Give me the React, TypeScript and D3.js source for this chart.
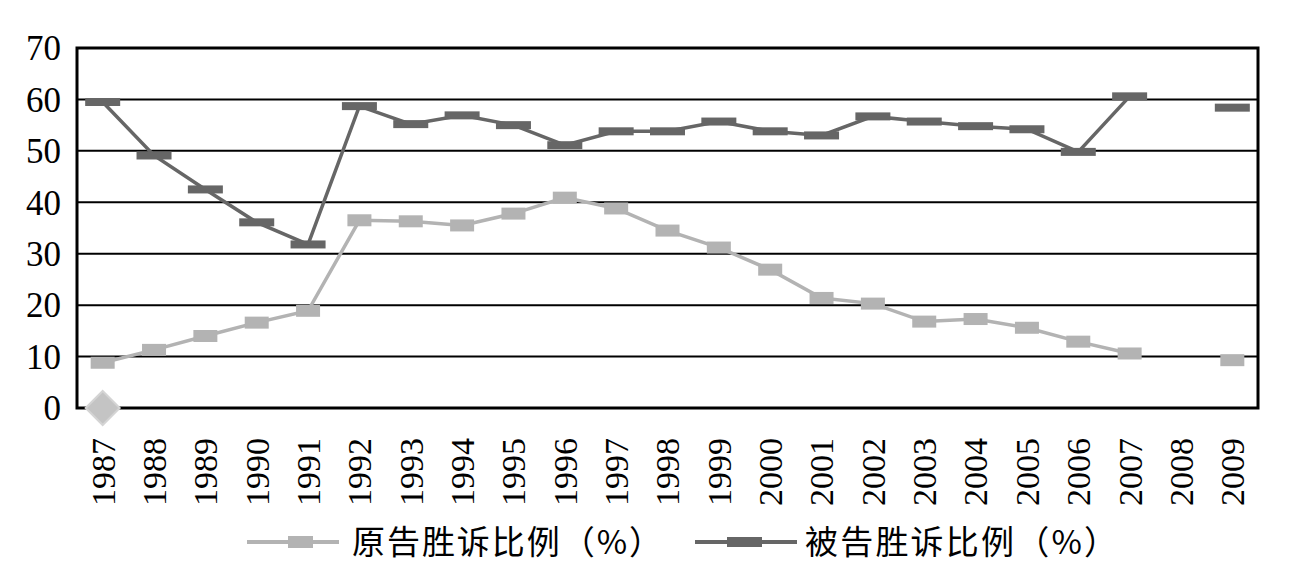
import React from "react";
import * as d3 from "d3";

const years = ["1987","1988","1989","1990","1991","1992","1993","1994","1995","1996","1997","1998","1999","2000","2001","2002","2003","2004","2005","2006","2007","2008","2009"];
const plaintiff: (number | null)[] = [8.8,11.3,14.0,16.6,18.9,36.5,36.3,35.5,37.8,40.9,38.8,34.5,31.2,26.9,21.4,20.3,16.8,17.3,15.6,12.9,10.6,null,9.3];
const defendant: (number | null)[] = [59.5,49.1,42.5,36.1,31.8,58.7,55.2,56.9,55.0,51.1,53.8,53.8,55.7,53.8,53.0,56.7,55.7,54.8,54.2,49.8,60.6,null,58.4];
const yTicks = [0,10,20,30,40,50,60,70];
const legendLabels = ["原告胜诉比例（%）","被告胜诉比例（%）"];

export default function App() {
  const left = 77, right = 1258, top = 48, bottom = 408;
  const x = d3.scaleBand<string>().domain(years).range([left, right]);
  const cx = (yr: string) => (x(yr) as number) + x.bandwidth() / 2;
  const y = d3.scaleLinear().domain([0, 70]).range([bottom, top]);
  const line = d3.line<number | null>()
    .defined((d) => d !== null)
    .x((_, i) => cx(years[i]))
    .y((d) => y(d as number));
  const pColor = "#b3b3b3", dColor = "#666666";
  const serif = "Liberation Serif, Times New Roman, DejaVu Serif, serif";
  const cjk = "Noto Sans CJK SC, Liberation Serif, serif";
  return (
    <svg width={1310} height={580} style={{ position: "absolute", left: 0, top: 0, background: "#fff" }}>
      <rect x={0} y={0} width={1310} height={580} fill="#fff" />
      {yTicks.slice(1, -1).map((t) => (
        <line key={t} x1={left} x2={right} y1={y(t)} y2={y(t)} stroke="#000" strokeWidth={2} />
      ))}
      <rect x={left} y={top} width={right - left} height={bottom - top} fill="none" stroke="#000" strokeWidth={3} />
      {yTicks.map((t) => (
        <text key={t} x={61} y={y(t)} dy="0.35em" textAnchor="end" style={{ fontFamily: serif }} fontSize={35} fill="#000">{t}</text>
      ))}
      {years.map((yr) => (
        <text key={yr} transform={`translate(${cx(yr)},${bottom + 30}) rotate(-90)`} dy="0.35em" textAnchor="end" style={{ fontFamily: serif }} fontSize={34} fill="#000">{yr}</text>
      ))}
      <path d={line(plaintiff) || ""} fill="none" stroke={pColor} strokeWidth={3.5} />
      <path d={line(defendant) || ""} fill="none" stroke={dColor} strokeWidth={3.5} />
      {plaintiff.map((v, i) => v === null ? null : (
        <rect key={"p" + i} x={cx(years[i]) - 12} y={y(v) - 6} width={24} height={12} fill={pColor} />
      ))}
      {defendant.map((v, i) => v === null ? null : (
        <rect key={"d" + i} x={cx(years[i]) - 17.5} y={y(v) - 4} width={35} height={8} fill={dColor} />
      ))}
      <path d={`M${cx(years[0])},${y(0) - 17} L${cx(years[0]) + 17},${y(0)} L${cx(years[0])},${y(0) + 17} L${cx(years[0]) - 17},${y(0)} Z`} fill="#c4c4c4" stroke="#d4d4d4" strokeWidth={2} />
      <g>
        <line x1={247} x2={339} y1={542} y2={542} stroke={pColor} strokeWidth={4} />
        <rect x={288} y={536} width={25} height={12} fill={pColor} />
        <text x={352} y={542} dy="0.35em" style={{ fontFamily: cjk }} fontSize={33} textLength={310} lengthAdjust="spacing" fill="#000">{legendLabels[0]}</text>
        <line x1={695} x2={797} y1={542} y2={542} stroke={dColor} strokeWidth={4} />
        <rect x={727} y={537} width={35} height={10} fill={dColor} />
        <text x={805} y={542} dy="0.35em" style={{ fontFamily: cjk }} fontSize={33} textLength={312} lengthAdjust="spacing" fill="#000">{legendLabels[1]}</text>
      </g>
    </svg>
  );
}
